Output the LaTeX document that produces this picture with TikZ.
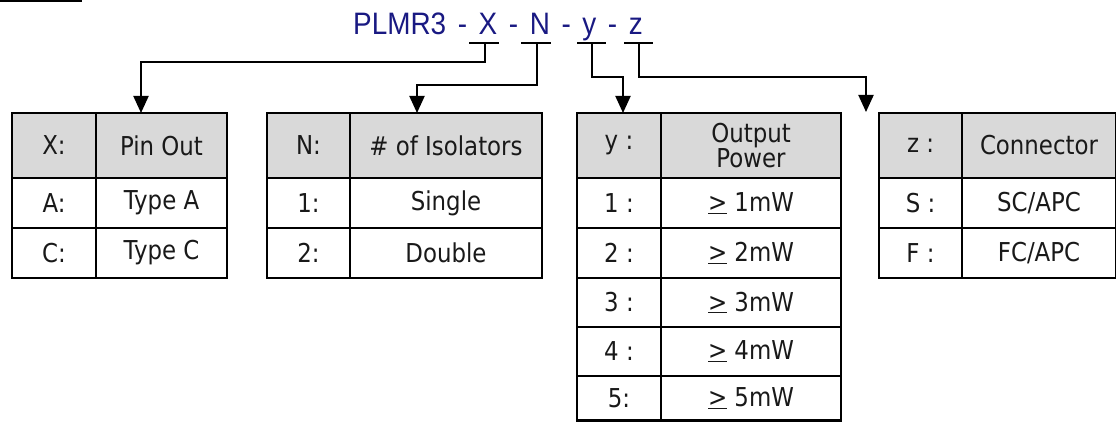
\documentclass[tikz,border=0pt]{standalone}
\usepackage{fontspec}
\setmainfont{DejaVu Sans}[FakeStretch=0.88]
\newfontfamily\titlefont{Liberation Sans}[FakeStretch=0.9]
\usetikzlibrary{arrows.meta}
\definecolor{titleblue}{RGB}{25,25,130}
\definecolor{headgray}{RGB}{217,217,217}
\begin{document}
\begin{tikzpicture}[x=1pt,y=-1pt,
  cell/.style={draw=black,line width=2.8pt,minimum height=50pt,inner sep=0pt,outer sep=0pt,
    anchor=north west,font=\fontsize{26}{23}\selectfont,align=center,text=black!90},
  head/.style={cell,fill=headgray,minimum height=65pt},
  conn/.style={line width=2pt},
  arr/.style={conn,-{Triangle[width=15pt,length=17pt]}}]
\useasboundingbox (0,0) rectangle (1116,422);
% top-left bar
\fill[black] (0,0) rectangle (82,2.5);
% title
\node[font=\titlefont\fontsize{31}{30}\selectfont,text=titleblue,anchor=base west,inner sep=0pt] (title) at (353,35) {\spaceskip=11.6pt\relax PLMR3 - X - N - y - z};
% underline bars
\draw[conn] (469,43) -- (499,43);
\draw[conn] (521,43) -- (551,43);
\draw[conn] (577,43) -- (606,43);
\draw[conn] (624,43) -- (653,43);
\coordinate (ux) at (485,43);
\coordinate (un) at (537,43);
\coordinate (uy) at (592,43);
\coordinate (uz) at (639,43);
\coordinate (kx) at (141,62);
\coordinate (kn) at (417,85);
\coordinate (ky) at (623,77);
\coordinate (kz) at (866,77);
\coordinate (ax) at (141,113);
\coordinate (an) at (417,113);
\coordinate (ay) at (623,113);
\coordinate (az) at (866,112);
% Table X
\node[head,minimum width=84pt] (x0) at (12,113) {X:};
\node[head,minimum width=131pt] (x1) at (96,113) {Pin Out};
\node[cell,minimum width=84pt] (xa0) at (12,178) {A:};
\node[cell,minimum width=131pt] (xa1) at (96,178) {Type A};
\node[cell,minimum width=84pt] (xc0) at (12,228) {C:};
\node[cell,minimum width=131pt] (xc1) at (96,228) {Type C};
% Table N
\node[head,minimum width=83pt] (n0) at (267,113) {N:};
\node[head,minimum width=192pt] (n1) at (350,113) {\# of Isolators};
\node[cell,minimum width=83pt] (n10) at (267,178) {1:};
\node[cell,minimum width=192pt] (n11) at (350,178) {Single};
\node[cell,minimum width=83pt] (n20) at (267,228) {2:};
\node[cell,minimum width=192pt] (n21) at (350,228) {Double};
% Table y
\node[head,minimum width=84pt] (y0) at (577,113) {y :};
\node[head,minimum width=180pt] (y1) at (661,113) {Output\\Power};
\node[cell,minimum width=84pt] (y10) at (577,178) {1 :};
\node[cell,minimum width=180pt] (y11) at (661,178) {\underline{>} 1mW};
\node[cell,minimum width=84pt] (y20) at (577,228) {2 :};
\node[cell,minimum width=180pt] (y21) at (661,228) {\underline{>} 2mW};
\node[cell,minimum width=84pt,minimum height=49pt] (y30) at (577,278) {3 :};
\node[cell,minimum width=180pt,minimum height=49pt] (y31) at (661,278) {\underline{>} 3mW};
\node[cell,minimum width=84pt,minimum height=49pt] (y40) at (577,327) {4 :};
\node[cell,minimum width=180pt,minimum height=49pt] (y41) at (661,327) {\underline{>} 4mW};
\node[cell,minimum width=84pt,minimum height=44.5pt] (y50) at (577,376) {5:};
\node[cell,minimum width=180pt,minimum height=44.5pt] (y51) at (661,376) {\underline{>} 5mW};
% Table z
\node[head,minimum width=83pt] (z0) at (879,113) {z :};
\node[head,minimum width=154pt] (z1) at (962,113) {Connector};
\node[cell,minimum width=83pt] (zs0) at (879,178) {S :};
\node[cell,minimum width=154pt] (zs1) at (962,178) {SC/APC};
\node[cell,minimum width=83pt] (zf0) at (879,228) {F :};
\node[cell,minimum width=154pt] (zf1) at (962,228) {FC/APC};
% connectors
\draw[arr] (ux) |- (kx) -- (ax);
\draw[arr] (un) |- (kn) -- (an);
\draw[arr] (uy) |- (ky) -- (ay);
\draw[arr] (uz) |- (kz) -- (az);
\end{tikzpicture}
\end{document}
